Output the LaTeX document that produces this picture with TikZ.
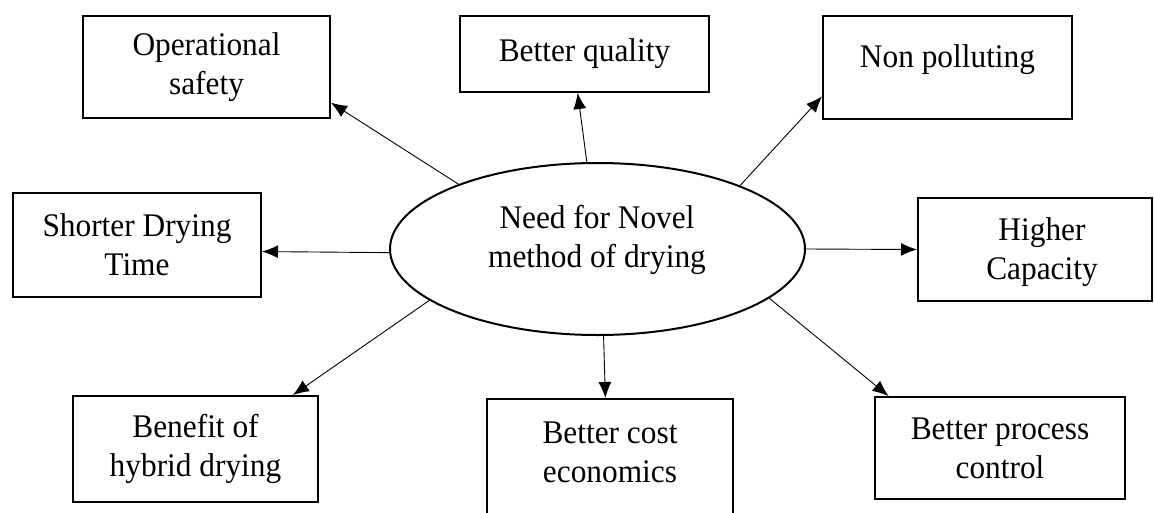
\documentclass[tikz,border=0pt]{standalone}
\usepackage{fontspec}
\setmainfont{Liberation Serif}[FakeStretch=0.95]
\usetikzlibrary{arrows.meta,shapes.geometric}
\begin{document}
\begin{tikzpicture}[x=1pt,y=-1pt,
  box/.style={draw, line width=2pt, rectangle, inner sep=0pt, align=center},
  lbl/.style={align=center, inner sep=0pt},
  conn/.style={line width=0.9pt, -{Latex[length=16pt,width=13pt]}},
  every node/.append style={font=\fontsize{33}{39}\selectfont}]
\useasboundingbox (0,0) rectangle (1154,512);
% central ellipse
\node[draw, ellipse, line width=2pt, minimum width=415pt, minimum height=172pt, inner sep=0pt] (e) at (597.5,249) {};
\node[lbl] (et) at (597,240) {Need for Novel\\method of drying};
% boxes
\node[box, minimum width=247pt, minimum height=102pt] (op) at (206.5,67) {Operational\\safety};
\node[box, minimum width=249pt, minimum height=76pt] (qual) at (584.5,54) {Better quality};
\node[box, minimum width=249pt, minimum height=103pt] (nonp) at (947.5,67.5) {};
\node[lbl] (nonpt) at (947.5,59.5) {Non polluting};
\node[box, minimum width=248pt, minimum height=104pt] (short) at (137,245) {Shorter Drying\\Time};
\node[box, minimum width=234pt, minimum height=103pt] (high) at (1035,249.5) {};
\node[lbl] (hight) at (1042,252) {Higher\\Capacity};
\node[box, minimum width=245pt, minimum height=106pt] (ben) at (195.5,449) {Benefit of\\hybrid drying};
\node[box, minimum width=246pt, minimum height=130pt] (cost) at (610,464) {};
\node[lbl] (costt) at (610,452) {Better cost\\economics};
\node[box, minimum width=250pt, minimum height=102pt] (proc) at (1000,448) {Better process\\control};
% connectors
\draw[conn] (e.155.4) -- (op.-16.25);
\draw[conn] (e.97) -- (qual.260.3);
\draw[conn] (e.24) -- (nonp.193.3);
\draw[conn] (e.181) -- (short.-3.7);
\draw[conn] (e.0) -- (high.180);
\draw[conn] (e.197.6) -- (ben.29.3);
\draw[conn] (e.274.7) -- (cost.94.4);
\draw[conn] (e.344) -- (proc.155.5);
\end{tikzpicture}
\end{document}
